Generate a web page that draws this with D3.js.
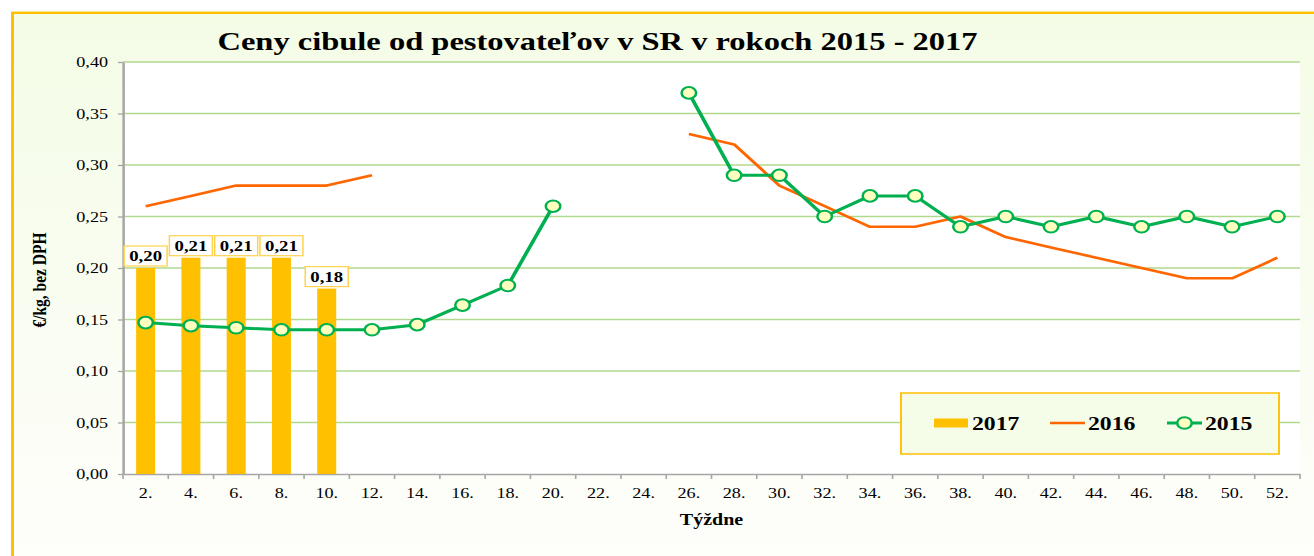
<!DOCTYPE html>
<html>
<head>
<meta charset="utf-8">
<script src="https://cdn.jsdelivr.net/npm/d3@7"></script>
<style>
  html, body { margin: 0; padding: 0; background: #ffffff; overflow: hidden; }
  svg { display: block; }
  text { font-family: "Liberation Serif", "Times New Roman", serif; }
</style>
</head>
<body>
<svg id="chart"></svg>
<script>
// ---- data ----
const weeks = [2,4,6,8,10,12,14,16,18,20,22,24,26,28,30,32,34,36,38,40,42,44,46,48,50,52];
const weekLabels = ["2.","4.","6.","8.","10.","12.","14.","16.","18.","20.","22.","24.","26.","28.","30.","32.","34.","36.","38.","40.","42.","44.","46.","48.","50.","52."];
const weeks2017 = [2,4,6,8,10];
const prices2017 = [0.20,0.21,0.21,0.21,0.18];
const labels2017 = ["0,20","0,21","0,21","0,21","0,18"];
const prices2016 = [0.26,0.27,0.28,0.28,0.28,0.29,null,null,null,null,null,null,0.33,0.32,0.28,0.26,0.24,0.24,0.25,0.23,0.22,0.21,0.20,0.19,0.19,0.21];
const prices2015 = [0.147,0.144,0.142,0.140,0.140,0.140,0.145,0.164,0.183,0.26,null,null,0.37,0.29,0.29,0.25,0.27,0.27,0.24,0.25,0.24,0.25,0.24,0.25,0.24,0.25];
const yTicks = [0,0.05,0.10,0.15,0.20,0.25,0.30,0.35,0.40];
const yTickLabels = ["0,00","0,05","0,10","0,15","0,20","0,25","0,30","0,35","0,40"];
const seriesNames = ["2017","2016","2015"];
const titleText = "Ceny cibule od pestovateľov v SR v rokoch 2015 - 2017";
const yTitle = "€/kg, bez DPH";
const xTitle = "Týždne";

// ---- layout ----
const W = 1314, H = 556;
const SX = 1.25;               // horizontal stretch of the original picture
const px = v => v / SX;        // screen x -> drawing x
const VW = W / SX;

const C = { bar: "#FFC000", s2016: "#FF6600", s2015: "#00B050", marker: "#FFFFC0",
            grid: "#B0D98E", axis: "#A6A6A6", border: "#FFC000" };

const svg = d3.select("#chart")
  .attr("width", W).attr("height", H)
  .attr("viewBox", `0 0 ${VW} ${H}`)
  .attr("preserveAspectRatio", "none");

const defs = svg.append("defs");
const grad = defs.append("linearGradient").attr("id", "bg").attr("x1", 0).attr("y1", 0).attr("x2", 0).attr("y2", 1);
grad.append("stop").attr("offset", "0%").attr("stop-color", "#F4FCE6");
grad.append("stop").attr("offset", "100%").attr("stop-color", "#FEFEFB");

// chart area background + border
svg.append("rect").attr("x", px(12.5)).attr("y", 12.8).attr("width", px(1330)).attr("height", 560)
  .attr("fill", "url(#bg)").attr("stroke", C.border).attr("stroke-width", 2.4);

const x0 = px(123), x1 = px(1300), yTop = 62, yBot = 474;

svg.append("rect").attr("x", x0).attr("y", yTop).attr("width", x1 - x0).attr("height", yBot - yTop).attr("fill", "#FFFFFF");

const x = d3.scaleBand().domain(weeks).range([x0, x1]).padding(0);
const y = d3.scaleLinear().domain([0, 0.40]).range([yBot, yTop]);
const bw = x.bandwidth();
const cx = w => x(w) + bw / 2;

// gridlines
svg.append("g").selectAll("line").data(yTicks.filter(d => d > 0)).join("line")
  .attr("x1", x0).attr("x2", x1).attr("y1", d => y(d)).attr("y2", d => y(d))
  .attr("stroke", C.grid).attr("stroke-width", 1.4);

// y axis
const yAxis = svg.append("g").attr("transform", `translate(${x0},0)`)
  .call(d3.axisLeft(y).tickValues(yTicks).tickSize(px(5)).tickPadding(px(10)).tickSizeOuter(0)
        .tickFormat((d, i) => yTickLabels[i]));
yAxis.select(".domain").attr("stroke", C.axis).attr("stroke-width", 2);
yAxis.selectAll(".tick line").attr("stroke", C.axis).attr("stroke-width", 1.3);
yAxis.selectAll("text").attr("font-size", 14.5).attr("fill", "#000").attr("font-family", "Liberation Serif");

// x axis (labels at centres, ticks at band edges)
const xAxis = svg.append("g").attr("transform", `translate(0,${yBot})`)
  .call(d3.axisBottom(x).tickSize(0).tickSizeOuter(0).tickFormat((d, i) => weekLabels[i]));
xAxis.select(".domain").attr("stroke", C.axis).attr("stroke-width", 1.6);
xAxis.selectAll("text").attr("y", 24).attr("dy", null).attr("font-size", 14.5).attr("fill", "#000").attr("font-family", "Liberation Serif");
svg.append("g").selectAll("line").data(weeks.concat(["end"])).join("line")
  .attr("x1", d => d === "end" ? x1 : x(d)).attr("x2", d => d === "end" ? x1 : x(d))
  .attr("y1", yBot).attr("y2", yBot + 5).attr("stroke", C.axis).attr("stroke-width", 1.3);

// bars 2017
const barW = bw * 0.42;
svg.append("g").selectAll("rect").data(weeks2017).join("rect")
  .attr("x", w => cx(w) - barW / 2).attr("width", barW)
  .attr("y", (w, i) => y(prices2017[i])).attr("height", (w, i) => yBot - y(prices2017[i]))
  .attr("fill", C.bar);

// line 2016
const line = d3.line().defined(d => d.v != null).x(d => cx(d.w)).y(d => y(d.v));
svg.append("path").datum(weeks.map((w, i) => ({ w, v: prices2016[i] })))
  .attr("d", line).attr("fill", "none").attr("stroke", C.s2016).attr("stroke-width", 2.6)
  .attr("stroke-linejoin", "round");

// line 2015
const d2015 = weeks.map((w, i) => ({ w, v: prices2015[i] }));
svg.append("path").datum(d2015)
  .attr("d", line).attr("fill", "none").attr("stroke", C.s2015).attr("stroke-width", 3)
  .attr("stroke-linejoin", "round");
svg.append("g").selectAll("circle").data(d2015.filter(d => d.v != null)).join("circle")
  .attr("cx", d => cx(d.w)).attr("cy", d => y(d.v)).attr("r", 5.8)
  .attr("fill", C.marker).attr("stroke", C.s2015).attr("stroke-width", 2);

// data labels 2017
const lab = svg.append("g").selectAll("g").data(weeks2017).join("g")
  .attr("transform", (w, i) => `translate(${cx(w)},${y(prices2017[i]) - 12})`);
lab.append("rect").attr("x", -px(21.5)).attr("y", -10).attr("width", px(43)).attr("height", 20)
  .attr("fill", "#FFFFFF").attr("stroke", "#FFD24D").attr("stroke-width", 1.2);
lab.append("text").attr("text-anchor", "middle").attr("y", 5.2)
  .attr("font-size", 15).attr("font-weight", "bold").attr("fill", "#000")
  .text((w, i) => labels2017[i]);

// titles
svg.append("text").attr("x", px(597.5)).attr("y", 50).attr("text-anchor", "middle")
  .attr("font-size", 26).attr("font-weight", "bold").attr("fill", "#000").text(titleText);
svg.append("text").attr("transform", `translate(${px(46)},280) rotate(-90)`).attr("text-anchor", "middle")
  .attr("font-size", 15.5).attr("font-weight", "bold").attr("fill", "#000").text(yTitle);
svg.append("text").attr("x", (x0 + x1) / 2).attr("y", 525).attr("text-anchor", "middle")
  .attr("font-size", 16).attr("font-weight", "bold").attr("fill", "#000").text(xTitle);

// legend
const lg = svg.append("g");
lg.append("rect").attr("x", px(901)).attr("y", 393).attr("width", px(378)).attr("height", 61)
  .attr("fill", "#F5FCE8").attr("stroke", C.border).attr("stroke-width", 1.5);
const ly = 423;
lg.append("rect").attr("x", px(934)).attr("y", ly - 4.5).attr("width", px(34)).attr("height", 9).attr("fill", C.bar);
lg.append("line").attr("x1", px(1050)).attr("x2", px(1085)).attr("y1", ly).attr("y2", ly)
  .attr("stroke", C.s2016).attr("stroke-width", 2.6);
lg.append("line").attr("x1", px(1167)).attr("x2", px(1202)).attr("y1", ly).attr("y2", ly)
  .attr("stroke", C.s2015).attr("stroke-width", 3);
lg.append("circle").attr("cx", px(1184.5)).attr("cy", ly).attr("r", 5.8)
  .attr("fill", C.marker).attr("stroke", C.s2015).attr("stroke-width", 2);
const legX = [972, 1088, 1205];
lg.selectAll("text.leg").data(seriesNames).join("text").attr("class", "leg")
  .attr("x", (d, i) => px(legX[i])).attr("y", ly + 7)
  .attr("font-size", 19).attr("font-weight", "bold").attr("fill", "#000").text(d => d);
</script>
</body>
</html>
